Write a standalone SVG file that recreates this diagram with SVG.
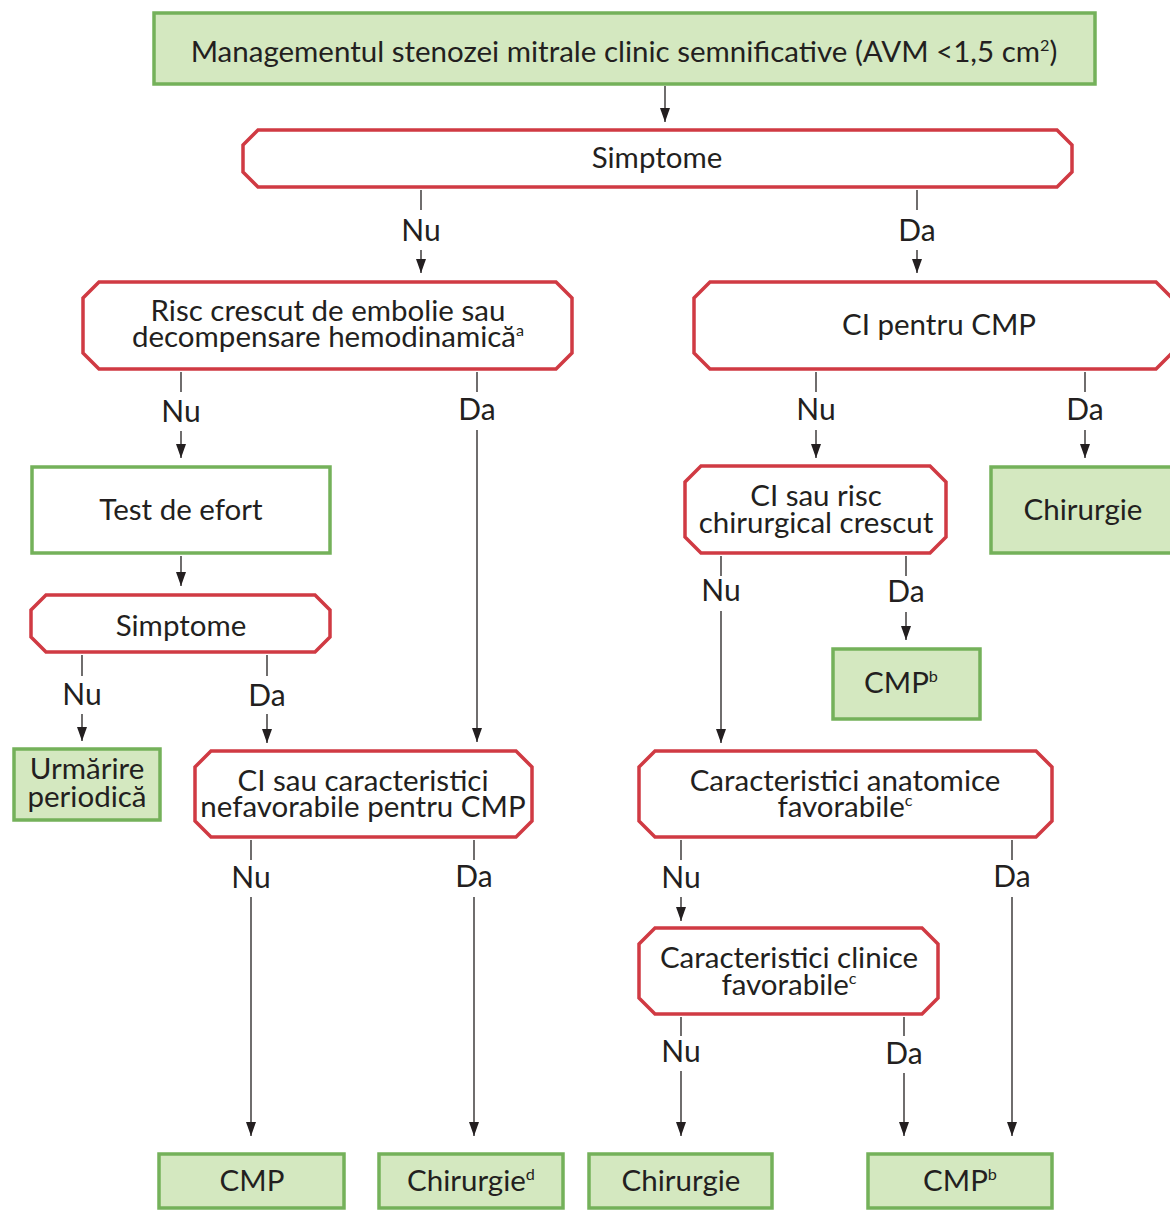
<svg xmlns="http://www.w3.org/2000/svg" width="1170" height="1210" viewBox="0 0 1170 1210">
<defs>
<marker id="ah" viewBox="0 0 14 10" refX="14" refY="5" markerWidth="14" markerHeight="10" markerUnits="userSpaceOnUse" orient="auto">
<path d="M0,0 L14,5 L0,10 Z" fill="#231f20"/>
</marker>
</defs>
<style>
text{font-family:Lato,"Open Sans","Liberation Sans",sans-serif;fill:#231f20;text-anchor:middle}
.t{font-size:29.5px}
.l{font-size:30px}
.g{fill:#d4e8c0;stroke:#74b15a;stroke-width:3.5}
.gw{fill:#fff;stroke:#74b15a;stroke-width:3.5}
.r{fill:#fff;stroke:#d03a43;stroke-width:3.5}
.c line{stroke:#231f20;stroke-width:1.3}
.c .a{marker-end:url(#ah)}
.s{font-size:55%}
</style>
<rect width="1170" height="1210" fill="#fff"/>
<g class="c" id="connectors">
<line class="a" x1="665" y1="86" x2="665" y2="122"/>
<line x1="421" y1="190" x2="421" y2="210"/><line class="a" x1="421" y1="250" x2="421" y2="273"/>
<line x1="917" y1="190" x2="917" y2="210"/><line class="a" x1="917" y1="250" x2="917" y2="273"/>
<line x1="181" y1="372" x2="181" y2="392"/><line class="a" x1="181" y1="431" x2="181" y2="458"/>
<line x1="477" y1="372" x2="477" y2="392"/><line class="a" x1="477" y1="430" x2="477" y2="742"/>
<line x1="816" y1="372" x2="816" y2="392"/><line class="a" x1="816" y1="430" x2="816" y2="458"/>
<line x1="1085" y1="372" x2="1085" y2="392"/><line class="a" x1="1085" y1="430" x2="1085" y2="458"/>
<line class="a" x1="181" y1="556" x2="181" y2="586"/>
<line x1="82" y1="655" x2="82" y2="676"/><line class="a" x1="82" y1="714" x2="82" y2="741"/>
<line x1="267" y1="655" x2="267" y2="676"/><line class="a" x1="267" y1="714" x2="267" y2="743"/>
<line x1="721" y1="556" x2="721" y2="576"/><line class="a" x1="721" y1="611" x2="721" y2="743"/>
<line x1="906" y1="556" x2="906" y2="576"/><line class="a" x1="906" y1="612" x2="906" y2="640"/>
<line x1="251" y1="840" x2="251" y2="860"/><line class="a" x1="251" y1="897" x2="251" y2="1136"/>
<line x1="474" y1="840" x2="474" y2="860"/><line class="a" x1="474" y1="897" x2="474" y2="1136"/>
<line x1="681" y1="840" x2="681" y2="860"/><line class="a" x1="681" y1="897" x2="681" y2="921"/>
<line x1="1012" y1="840" x2="1012" y2="860"/><line class="a" x1="1012" y1="897" x2="1012" y2="1136"/>
<line x1="681" y1="1017" x2="681" y2="1036"/><line class="a" x1="681" y1="1071" x2="681" y2="1136"/>
<line x1="904" y1="1017" x2="904" y2="1036"/><line class="a" x1="904" y1="1073" x2="904" y2="1136"/>
<text class="l" x="421" y="241">Nu</text>
<text class="l" x="917" y="241">Da</text>
<text class="l" x="181" y="422">Nu</text>
<text class="l" x="477" y="420">Da</text>
<text class="l" x="816" y="420">Nu</text>
<text class="l" x="1085" y="420">Da</text>
<text class="l" x="82" y="705">Nu</text>
<text class="l" x="267" y="706">Da</text>
<text class="l" x="721" y="601">Nu</text>
<text class="l" x="906" y="602">Da</text>
<text class="l" x="251" y="888">Nu</text>
<text class="l" x="474" y="887">Da</text>
<text class="l" x="681" y="888">Nu</text>
<text class="l" x="1012" y="887">Da</text>
<text class="l" x="681" y="1062">Nu</text>
<text class="l" x="904" y="1064">Da</text>
</g>
<g id="n-top"><rect class="g" x="154" y="13" width="941" height="71"/>
<text class="t" x="624" y="62">Managementul stenozei mitrale clinic semnificative (AVM &lt;1,5 cm<tspan class="s" dy="-11">2</tspan><tspan dy="11">)</tspan></text></g>
<g id="n-simptome1"><polygon class="r" points="258,130 1057,130 1072,145 1072,172 1057,187 258,187 243,172 243,145"/>
<text class="t" x="657" y="168">Simptome</text></g>
<g id="n-risc"><polygon class="r" points="99,282 556,282 572,298 572,353 556,369 99,369 83,353 83,298"/>
<text class="t" x="328" y="321">Risc crescut de embolie sau</text>
<text class="t" x="328" y="347">decompensare hemodinamică<tspan class="s" dy="-11">a</tspan></text></g>
<g id="n-ci-cmp"><polygon class="r" points="710,282 1156,282 1172,298 1172,353 1156,369 710,369 694,353 694,298"/>
<text class="t" x="939" y="335">CI pentru CMP</text></g>
<g id="n-test"><rect class="gw" x="32" y="467" width="298" height="86"/>
<text class="t" x="181" y="520">Test de efort</text></g>
<g id="n-chir-right"><rect class="g" x="991" y="467" width="182" height="86"/>
<text class="t" x="1083" y="520">Chirurgie</text></g>
<g id="n-ci-risc"><polygon class="r" points="701,466 930,466 946,482 946,537 930,553 701,553 685,537 685,482"/>
<text class="t" x="816" y="506">CI sau risc</text>
<text class="t" x="816" y="533">chirurgical crescut</text></g>
<g id="n-simptome2"><polygon class="r" points="46,595 315,595 330,610 330,637 315,652 46,652 31,637 31,610"/>
<text class="t" x="181" y="636">Simptome</text></g>
<g id="n-cmp-mid"><rect class="g" x="833" y="649" width="147" height="70"/>
<text class="t" x="901" y="693">CMP<tspan class="s" dy="-11">b</tspan></text></g>
<g id="n-urmarire"><rect class="g" x="14" y="749" width="146" height="71"/>
<text class="t" x="87" y="779">Urmărire</text>
<text class="t" x="87" y="807">periodică</text></g>
<g id="n-ci-caract"><polygon class="r" points="211,751 516,751 532,767 532,821 516,837 211,837 195,821 195,767"/>
<text class="t" x="363" y="791">CI sau caracteristici</text>
<text class="t" x="363" y="817">nefavorabile pentru CMP</text></g>
<g id="n-anat"><polygon class="r" points="655,751 1036,751 1052,767 1052,821 1036,837 655,837 639,821 639,767"/>
<text class="t" x="845" y="791">Caracteristici anatomice</text>
<text class="t" x="845" y="817">favorabile<tspan class="s" dy="-11">c</tspan></text></g>
<g id="n-clin"><polygon class="r" points="655,928 922,928 938,944 938,998 922,1014 655,1014 639,998 639,944"/>
<text class="t" x="789" y="968">Caracteristici clinice</text>
<text class="t" x="789" y="995">favorabile<tspan class="s" dy="-11">c</tspan></text></g>
<g id="n-cmp1"><rect class="g" x="159" y="1154" width="185" height="54"/>
<text class="t" x="252" y="1191">CMP</text></g>
<g id="n-chir-d"><rect class="g" x="379" y="1154" width="184" height="54"/>
<text class="t" x="471" y="1191">Chirurgie<tspan class="s" dy="-11">d</tspan></text></g>
<g id="n-chir2"><rect class="g" x="589" y="1154" width="183" height="54"/>
<text class="t" x="681" y="1191">Chirurgie</text></g>
<g id="n-cmp2"><rect class="g" x="868" y="1154" width="184" height="54"/>
<text class="t" x="960" y="1191">CMP<tspan class="s" dy="-11">b</tspan></text></g>
</svg>
